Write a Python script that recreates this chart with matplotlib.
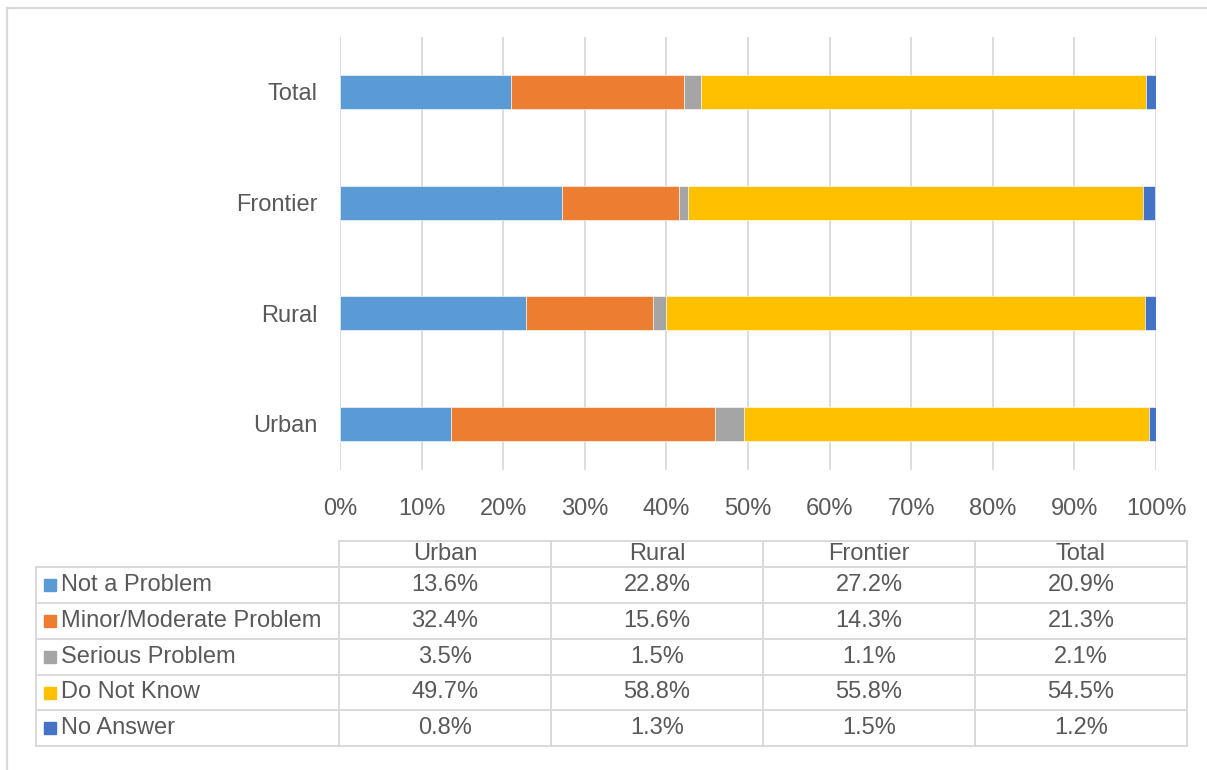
import matplotlib
matplotlib.use("Agg")
import matplotlib.pyplot as plt
import numpy as np

plt.rcParams["font.family"] = ["Liberation Sans", "DejaVu Sans"]

# Survey responses by region (percent)
REGIONS = ["Urban", "Rural", "Frontier", "Total"]
RESPONSES = ["Not a Problem", "Minor/Moderate Problem", "Serious Problem", "Do Not Know", "No Answer"]
not_a_problem = [13.6, 22.8, 27.2, 20.9]
minor_moderate = [32.4, 15.6, 14.3, 21.3]
serious = [3.5, 1.5, 1.1, 2.1]
do_not_know = [49.7, 58.8, 55.8, 54.5]
no_answer = [0.8, 1.3, 1.5, 1.2]
SERIES = [not_a_problem, minor_moderate, serious, do_not_know, no_answer]
COLORS = ["#5B9BD5", "#ED7D31", "#A5A5A5", "#FFC000", "#4472C4"]
XTICKS = [0, 10, 20, 30, 40, 50, 60, 70, 80, 90, 100]

TEXT = "#595959"
GRID = "#D9D9D9"
FS = 17

W, H = 1207, 770
fig = plt.figure(figsize=(W / 100, H / 100), dpi=100)

# overlay in pixel coordinates for the frame and the data table
bg = fig.add_axes([0, 0, 1, 1])
bg.set_xlim(0, W)
bg.set_ylim(H, 0)
bg.axis("off")
bg.plot([7, 7, W], [H, 8, 8], color=GRID, lw=1.6, solid_joinstyle="miter")

ax = fig.add_axes([340 / W, 1 - 470 / H, (1156 - 340) / W, (470 - 37) / H])
y = np.arange(len(REGIONS))
left = np.zeros(len(REGIONS))
for vals, col, name in zip(SERIES, COLORS, RESPONSES):
    ax.barh(y, vals, left=left, height=0.31, color=col, label=name,
            edgecolor="white", linewidth=0.4, zorder=3)
    left += np.array(vals)

ax.set_xlim(0, 100)
ax.set_ylim(-0.416, 3.497)
ax.set_xticks(XTICKS)
ax.set_xticklabels([f"{t}%" for t in XTICKS])
ax.set_yticks(y)
ax.set_yticklabels(REGIONS)
ax.tick_params(axis="both", length=0, labelsize=FS, labelcolor=TEXT)
ax.tick_params(axis="x", pad=20)
ax.tick_params(axis="y", pad=16)
ax.grid(axis="x", color=GRID, lw=1.3, zorder=0)
for s in ax.spines.values():
    s.set_visible(False)

# data table below the chart
col_edges = [339, 551, 763, 975, 1187]
row_edges = [567, 603, 639, 675, 710, 746]
header_top = 541
label_left = 36

for xe in col_edges:
    bg.plot([xe, xe], [header_top, row_edges[-1]], color=GRID, lw=1.4)
bg.plot([label_left, label_left], [row_edges[0], row_edges[-1]], color=GRID, lw=1.4)
bg.plot([col_edges[0], col_edges[-1]], [header_top, header_top], color=GRID, lw=1.4)
for ye in row_edges:
    bg.plot([label_left, col_edges[-1]], [ye, ye], color=GRID, lw=1.4)

for j, region in enumerate(REGIONS):
    cx = (col_edges[j] + col_edges[j + 1]) / 2
    bg.text(cx, (header_top + row_edges[0]) / 2, region, ha="center", va="center",
            fontsize=FS, color=TEXT)

for i, (vals, col, name) in enumerate(zip(SERIES, COLORS, RESPONSES)):
    cy = (row_edges[i] + row_edges[i + 1]) / 2
    bg.add_patch(plt.Rectangle((44, cy - 6), 12, 12, color=col))
    bg.text(61, cy, name, ha="left", va="center", fontsize=FS, color=TEXT)
    for j, v in enumerate(vals):
        cx = (col_edges[j] + col_edges[j + 1]) / 2
        bg.text(cx, cy, f"{v:.1f}%", ha="center", va="center", fontsize=FS, color=TEXT)

fig.savefig("out.png", dpi=100)
